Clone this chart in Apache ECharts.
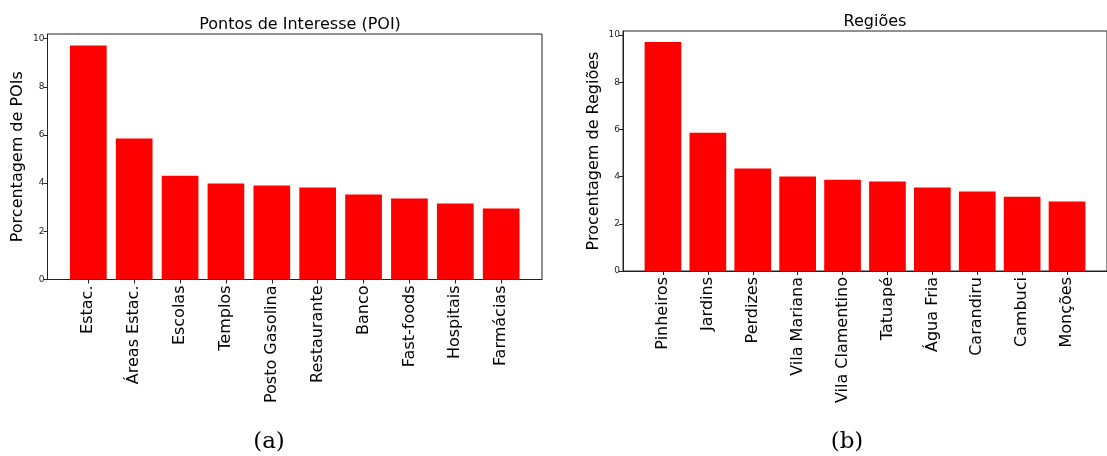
<!DOCTYPE html>
<html>
<head>
<meta charset="utf-8">
<script src="https://cdn.jsdelivr.net/npm/echarts@6/dist/echarts.min.js"></script>
<style>
html,body{margin:0;padding:0;background:#fff;}
#c{width:1107px;height:456px;}
</style>
</head>
<body>
<div id="c"></div>
<script>
const poiCategories = ['Estac.', 'Áreas Estac.', 'Escolas', 'Templos', 'Posto Gasolina', 'Restaurante', 'Banco', 'Fast-foods', 'Hospitais', 'Farmácias'];
const poiValues = [9.71, 5.85, 4.31, 3.98, 3.90, 3.82, 3.53, 3.36, 3.15, 2.95];
const regionCategories = ['Pinheiros', 'Jardins', 'Perdizes', 'Vila Mariana', 'Vila Clamentino', 'Tatuapé', 'Água Fria', 'Carandiru', 'Cambuci', 'Monções'];
const regionValues = [9.70, 5.86, 4.34, 4.00, 3.87, 3.79, 3.54, 3.37, 3.15, 2.94];
const yTicks = [0, 2, 4, 6, 8, 10];

const FONT = 'DejaVu Sans';
const AX = '#222';

function idx(arr) { return arr.map((v, i) => i); }

function xAxisFor(gridIndex, cats) {
  return {
    type: 'value', gridIndex: gridIndex,
    min: -0.89, max: 9.89,
    splitLine: { show: false },
    axisLine: { show: true, onZero: false, lineStyle: { color: AX, width: 1 } },
    axisTick: { show: true, inside: false, length: 4, customValues: idx(cats), lineStyle: { color: AX } },
    axisLabel: {
      show: true, rotate: 90, margin: 6, fontFamily: FONT, fontSize: 16, color: '#000',
      customValues: idx(cats),
      formatter: function (v) { return cats[Math.round(v)]; }
    }
  };
}
function yAxisFor(gridIndex, name, max, gap) {
  return {
    type: 'value', gridIndex: gridIndex, min: 0, max: max,
    splitLine: { show: false },
    name: name, nameLocation: 'middle', nameGap: gap,
    nameTextStyle: { fontFamily: FONT, fontSize: 16, color: '#000' },
    axisLine: { show: true, onZero: false, lineStyle: { color: AX, width: 1 } },
    axisTick: { show: true, inside: false, length: 4, customValues: yTicks, lineStyle: { color: AX } },
    axisLabel: { fontFamily: FONT, fontSize: 9, color: '#222', margin: 3, customValues: yTicks }
  };
}

const chart = echarts.init(document.getElementById('c'), null, { renderer: 'canvas' });
chart.setOption({
  animation: false,
  backgroundColor: '#fff',
  title: [
    { text: 'Pontos de Interesse (POI)', left: 295, top: 12, textAlign: 'center',
      textStyle: { fontFamily: FONT, fontSize: 16, fontWeight: 'normal', color: '#000' } },
    { text: 'Regiões', left: 870, top: 9, textAlign: 'center',
      textStyle: { fontFamily: FONT, fontSize: 16, fontWeight: 'normal', color: '#000' } },
    { text: '(a)', left: 264, top: 426, textAlign: 'center',
      textStyle: { fontFamily: 'DejaVu Serif', fontSize: 23, fontWeight: 'normal', color: '#000' } },
    { text: '(b)', left: 842, top: 426, textAlign: 'center',
      textStyle: { fontFamily: 'DejaVu Serif', fontSize: 23, fontWeight: 'normal', color: '#000' } }
  ],
  grid: [
    { left: 47.5, top: 34, width: 494.5, height: 245.5, show: true, borderColor: AX, borderWidth: 1, backgroundColor: 'transparent' },
    { left: 623, top: 31, width: 494, height: 240, show: true, borderColor: AX, borderWidth: 1, backgroundColor: 'transparent' }
  ],
  xAxis: [xAxisFor(0, poiCategories), xAxisFor(1, regionCategories)],
  yAxis: [yAxisFor(0, 'Porcentagem de POIs', 10.19, 22), yAxisFor(1, 'Procentagem de Regiões', 10.17, 21)],
  series: [
    { type: 'bar', xAxisIndex: 0, yAxisIndex: 0, barWidth: 36.7,
      itemStyle: { color: '#ff0000' },
      data: poiValues.map((v, i) => [i, v]) },
    { type: 'bar', xAxisIndex: 1, yAxisIndex: 1, barWidth: 36.7,
      itemStyle: { color: '#ff0000' },
      data: regionValues.map((v, i) => [i, v]) }
  ]
});
</script>
</body>
</html>
